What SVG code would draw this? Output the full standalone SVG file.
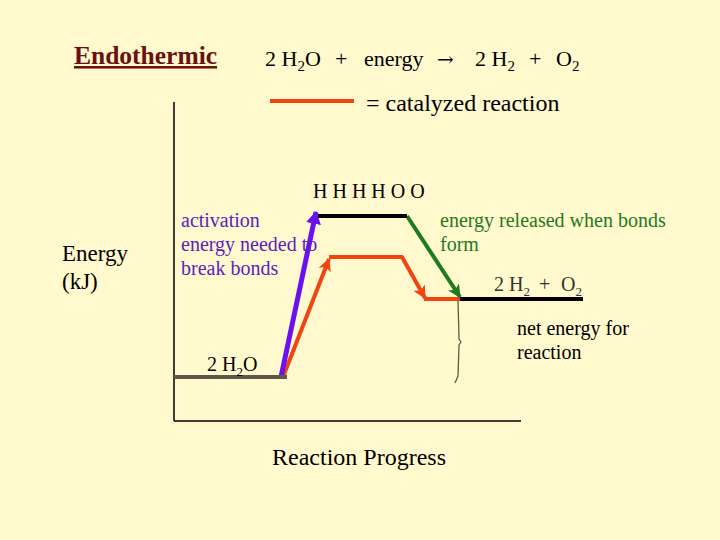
<svg xmlns="http://www.w3.org/2000/svg" width="720" height="540" viewBox="0 0 720 540" font-family="'Liberation Serif','Times New Roman',serif">
<style>
text{font-family:"Liberation Serif","Times New Roman",serif;}
.eq{font-size:22px;fill:#000;}
.big{font-size:24px;fill:#000;}
.t20{font-size:20px;}
.sub{font-size:15px;}
.subs{font-size:13px;}
.arr{font-family:"DejaVu Serif",serif;font-size:20px;}
</style>
<defs>
<marker id="aP" viewBox="0 0 12 14" refX="11" refY="7" markerWidth="13" markerHeight="15" markerUnits="userSpaceOnUse" orient="auto"><path d="M0,0 L12,7 L0,14 Z" fill="#6A11F0"/></marker>
<marker id="aO" viewBox="0 0 12 12" refX="11" refY="6" markerWidth="13" markerHeight="13" markerUnits="userSpaceOnUse" orient="auto"><path d="M0,0 L12,6 L0,12 L3,6 Z" fill="#F04510"/></marker>
<marker id="aG" viewBox="0 0 12 12" refX="11" refY="6" markerWidth="13" markerHeight="13" markerUnits="userSpaceOnUse" orient="auto"><path d="M0,0 L12,6 L0,12 L3,6 Z" fill="#1E7A1E"/></marker>
</defs>
<rect width="720" height="540" fill="#FFF9CD"/>

<g id="title">
<text x="74" y="64" font-size="25.5" font-weight="bold" fill="#6B1010" text-decoration="underline">Endothermic</text>
</g>
<g id="equation">
<text y="66" class="eq"><tspan x="265">2 H</tspan><tspan class="sub" dy="5">2</tspan><tspan dy="-5">O</tspan><tspan x="335">+</tspan><tspan x="364">energy</tspan><tspan x="437" class="arr">→</tspan><tspan x="475">2 H</tspan><tspan class="sub" dy="5">2</tspan><tspan dy="-5" x="529">+</tspan><tspan x="556">O</tspan><tspan class="sub" dy="5">2</tspan></text>
</g>
<g id="legend">
<line x1="270" y1="101" x2="354" y2="101" stroke="#F04510" stroke-width="4"/>
<text x="366" y="111" class="big">= catalyzed reaction</text>
</g>

<g id="axes" stroke="#000" stroke-width="1.5" fill="none">
<line x1="174" y1="102" x2="174" y2="421"/>
<line x1="174" y1="421" x2="521" y2="421"/>
</g>

<g id="connectors" fill="none" stroke-linecap="butt">
<path d="M283,377 L329,259" stroke="#F04510" stroke-width="4" marker-end="url(#aO)"/>
<path d="M329,257 L402,257 L425,298" stroke="#F04510" stroke-width="4" stroke-linejoin="round" marker-end="url(#aO)"/>
<line x1="424" y1="299" x2="462" y2="299" stroke="#F04510" stroke-width="4"/>
<line x1="281" y1="377" x2="316" y2="212" stroke="#6A11F0" stroke-width="5" marker-end="url(#aP)"/>
<line x1="407" y1="216" x2="460" y2="297" stroke="#1E7A1E" stroke-width="4" marker-end="url(#aG)"/>
<path d="M458,300 L459,339 L461,342 L459,345 L458,376 L455,383" stroke="#5F5A48" stroke-width="1.3"/>
</g>

<g id="reactant">
<line x1="174" y1="377" x2="287" y2="377" stroke="#5F5A48" stroke-width="4"/>
<text x="207" y="371" class="t20" fill="#000">2 H<tspan class="subs" dy="5">2</tspan><tspan dy="-5">O</tspan></text>
</g>
<g id="transition">
<line x1="318" y1="216" x2="407" y2="216" stroke="#000" stroke-width="4"/>
<text x="313" y="198" class="t20" fill="#000">H H H H O O</text>
</g>
<g id="product">
<line x1="460" y1="299" x2="583" y2="299" stroke="#000" stroke-width="4"/>
<text y="291" class="t20" fill="#333"><tspan x="494">2 H</tspan><tspan class="subs" dy="5">2</tspan><tspan dy="-5" x="539">+</tspan><tspan x="561">O</tspan><tspan class="subs" dy="5">2</tspan></text>
</g>

<g id="activation">
<text class="t20" fill="#5B1FC0"><tspan x="181" y="227">activation</tspan><tspan x="181" y="251">energy needed to</tspan><tspan x="181" y="275">break bonds</tspan></text>
</g>
<g id="released">
<text class="t20" fill="#1E7A1E"><tspan x="440" y="227">energy released when bonds</tspan><tspan x="440" y="251">form</tspan></text>
</g>
<g id="net">
<text class="t20" fill="#000"><tspan x="517" y="335">net energy for</tspan><tspan x="517" y="359">reaction</tspan></text>
</g>
<g id="yaxis-label">
<text font-size="23" fill="#000"><tspan x="62" y="261">Energy</tspan><tspan x="62" y="289">(kJ)</tspan></text>
</g>
<g id="xaxis-label">
<text x="272" y="465" font-size="24" fill="#000">Reaction Progress</text>
</g>
</svg>
